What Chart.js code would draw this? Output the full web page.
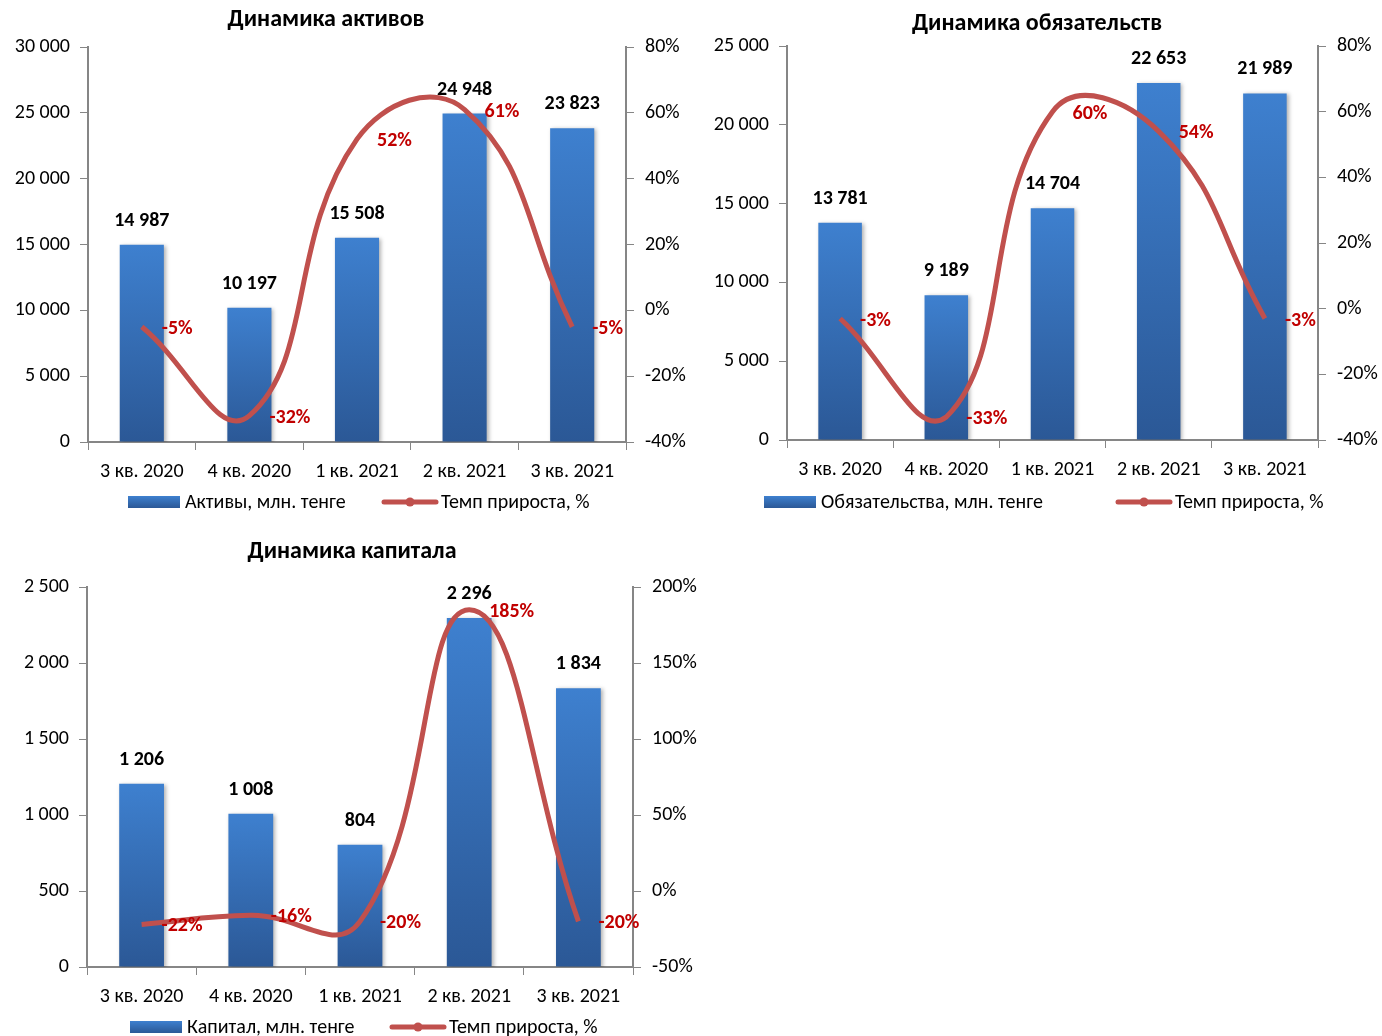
<!DOCTYPE html>
<html>
<head>
<meta charset="utf-8">
<script src="https://cdn.jsdelivr.net/npm/chart.js@4/dist/chart.umd.min.js"></script>
<style>
    body { margin: 0; background: #fff; }
    .box { position: absolute; }
</style>
</head>
<body>
<div class="box" style="left:0;top:0"><canvas id="grAktivy" width="690" height="520"></canvas></div>
<div class="box" style="left:690px;top:0"><canvas id="grObyaz" width="692" height="520"></canvas></div>
<div class="box" style="left:0;top:525px"><canvas id="grKapital" width="710" height="511"></canvas></div>
<script>
const kvartaly = ['3 кв. 2020', '4 кв. 2020', '1 кв. 2021', '2 кв. 2021', '3 кв. 2021'];

const aktivy = [14987, 10197, 15508, 24948, 23823];
const aktivyTemp = [-5, -32, 52, 61, -5];

const obyaz = [13781, 9189, 14704, 22653, 21989];
const obyazTemp = [-3, -33, 60, 54, -3];

const kapital = [1206, 1008, 804, 2296, 1834];
const kapitalTemp = [-22, -16, -20, 185, -20];

// шкалы: [min, max, шаг]
const aktivyOs = [0, 30000, 5000];
const aktivyOsTemp = [-40, 80, 20];
const obyazOs = [0, 25000, 5000];
const obyazOsTemp = [-40, 80, 20];
const kapitalOs = [0, 2500, 500];
const kapitalOsTemp = [-50, 200, 50];

const FONT = "Carlito, Lato, sans-serif";
const AXIS = '#868686';

function probely(v) {
    return String(Math.round(v)).replace(/\B(?=(\d{3})+(?!\d))/g, ' ');
}

function grad(ctx, top, bottom) {
    const g = ctx.createLinearGradient(0, top, 0, bottom);
    g.addColorStop(0, '#3E80CF');
    g.addColorStop(1, '#2B5896');
    return g;
}

// подписи, заголовок и легенда
const podpisi = {
    id: 'podpisi',
    beforeDatasetDraw(chart, args) {
        if (args.meta.type === 'bar') {
            const ctx = chart.ctx;
            ctx.save();
            ctx.shadowColor = 'rgba(0,0,0,0.3)';
            ctx.shadowBlur = 4;
            ctx.shadowOffsetX = 2;
            ctx.shadowOffsetY = 1;
        }
    },
    afterDatasetDraw(chart, args) {
        if (args.meta.type === 'bar') chart.ctx.restore();
    },
    afterDatasetsDraw(chart) {
        const ctx = chart.ctx;
        ctx.save();
        chart.data.datasets.forEach(function (ds, i) {
            const meta = chart.getDatasetMeta(i);
            meta.data.forEach(function (el, j) {
                ctx.font = 'bold 20px ' + FONT;
                ctx.textBaseline = 'middle';
                if (ds.type === 'line') {
                    ctx.fillStyle = '#C00000';
                    ctx.textAlign = 'left';
                    ctx.fillText(ds.data[j] + '%', el.x + 20, el.y + 2);
                } else {
                    ctx.fillStyle = '#000';
                    ctx.textAlign = 'center';
                    ctx.fillText(probely(ds.data[j]), el.x, el.y - 24);
                }
            });
        });
        ctx.restore();
    },
    afterDraw(chart, args, o) {
        const ctx = chart.ctx;
        ctx.save();
        ctx.font = 'bold 24px ' + FONT;
        ctx.fillStyle = '#000';
        ctx.textAlign = 'center';
        ctx.textBaseline = 'middle';
        ctx.fillText(o.title, o.titleX, o.titleY);

        ctx.font = '20px ' + FONT;
        ctx.textAlign = 'left';
        // столбцы
        ctx.fillStyle = grad(ctx, o.legY - 6, o.legY + 6);
        ctx.fillRect(o.legBarX, o.legY - 6, 52, 12);
        ctx.fillStyle = '#000';
        ctx.fillText(o.legBarText, o.legBarX + 57, o.legY + 1);
        // линия
        ctx.strokeStyle = '#C0504D';
        ctx.lineWidth = 5;
        ctx.lineCap = 'round';
        ctx.beginPath();
        ctx.moveTo(o.legLineX + 2, o.legY);
        ctx.lineTo(o.legLineX + 54, o.legY);
        ctx.stroke();
        ctx.fillStyle = '#C0504D';
        ctx.beginPath();
        ctx.arc(o.legLineX + 28, o.legY, 4.5, 0, Math.PI * 2);
        ctx.fill();
        ctx.fillStyle = '#000';
        ctx.fillText('Темп прироста, %', o.legLineX + 59, o.legY + 1);
        ctx.restore();
    }
};

function grafik(id, znach, temp, os, osTemp, p) {
    const ctx = document.getElementById(id).getContext('2d');
    new Chart(ctx, {
        type: 'bar',
        data: {
            labels: kvartaly,
            datasets: [{
                type: 'line',
                label: 'Темп прироста, %',
                data: temp,
                yAxisID: 'y1',
                borderColor: '#C0504D',
                borderWidth: 5,
                pointRadius: 0,
                tension: 0.45,
                fill: false,
                order: 0
            }, {
                type: 'bar',
                label: p.legBarText,
                data: znach,
                yAxisID: 'y',
                barPercentage: 0.41,
                categoryPercentage: 1,
                backgroundColor: function (c) {
                    const chart = c.chart;
                    if (!chart.chartArea || c.type !== 'data') return '#3A78C3';
                    const y = chart.scales.y;
                    const v = c.dataset.data[c.dataIndex];
                    return grad(chart.ctx, y.getPixelForValue(v), y.getPixelForValue(0));
                },
                order: 1
            }]
        },
        options: {
            responsive: false,
            animation: false,
            layout: { padding: { top: p.top, bottom: p.bottom, left: 0, right: 0 } },
            plugins: {
                legend: { display: false },
                title: { display: false },
                tooltip: { enabled: false },
                podpisi: p
            },
            scales: {
                x: {
                    grid: { display: true, drawOnChartArea: false, color: AXIS, tickLength: 8, offset: true },
                    border: { color: AXIS, width: 2 },
                    ticks: { color: '#000', font: { family: FONT, size: 20 }, padding: 10 },
                    afterFit: function (s) { s.height = p.xH; }
                },
                y: {
                    position: 'left',
                    min: os[0], max: os[1],
                    grid: { display: true, drawOnChartArea: false, color: AXIS, tickLength: 8 },
                    border: { color: AXIS, width: 2 },
                    ticks: {
                        stepSize: os[2], color: '#000', padding: 10,
                        font: { family: FONT, size: 20 },
                        callback: function (v) { return probely(v); }
                    },
                    afterFit: function (s) { s.width = p.yW; }
                },
                y1: {
                    position: 'right',
                    min: osTemp[0], max: osTemp[1],
                    grid: { display: true, drawOnChartArea: false, color: AXIS, tickLength: 8 },
                    border: { color: AXIS, width: 2 },
                    ticks: {
                        stepSize: osTemp[2], color: '#000', padding: 11,
                        font: { family: FONT, size: 20 },
                        callback: function (v) { return v + '%'; }
                    },
                    afterFit: function (s) { s.width = p.y1W; }
                }
            }
        },
        plugins: [podpisi]
    });
}

grafik('grAktivy', aktivy, aktivyTemp, aktivyOs, aktivyOsTemp, {
    top: 47, bottom: 33, xH: 45, yW: 88, y1W: 64,
    title: 'Динамика активов', titleX: 326, titleY: 20,
    legY: 502, legBarX: 128, legLineX: 382,
    legBarText: 'Активы, млн. тенге'
});

grafik('grObyaz', obyaz, obyazTemp, obyazOs, obyazOsTemp, {
    top: 46, bottom: 35, xH: 45, yW: 97, y1W: 64,
    title: 'Динамика обязательств', titleX: 347, titleY: 24,
    legY: 502, legBarX: 74, legLineX: 426,
    legBarText: 'Обязательства, млн. тенге'
});

grafik('grKapital', kapital, kapitalTemp, kapitalOs, kapitalOsTemp, {
    top: 62, bottom: 24, xH: 45, yW: 87, y1W: 77,
    title: 'Динамика капитала', titleX: 352, titleY: 27,
    legY: 502, legBarX: 130, legLineX: 390,
    legBarText: 'Капитал, млн. тенге'
});
</script>
</body>
</html>
